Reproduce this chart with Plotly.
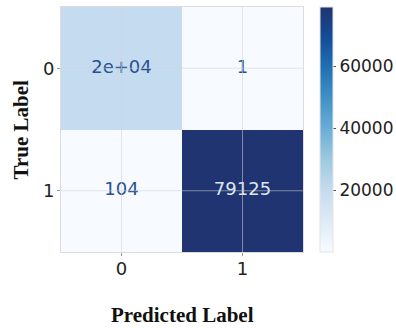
import plotly.graph_objects as go

# Data
pred_labels = ["0", "1"]
true_labels = ["0", "1"]
counts = [[20000, 1], [104, 79125]]
cell_text = [["2e+04", "1"], ["104", "79125"]]
cbar_ticks = [20000, 40000, 60000]

blues = ["#f7fbff", "#deebf7", "#c6dbef", "#9ecae1", "#6baed6",
         "#4292c6", "#2171b5", "#134d98", "#1f3470"]
colorscale = [[k / (len(blues) - 1), c] for k, c in enumerate(blues)]

zmin = min(min(r) for r in counts)
zmax = max(max(r) for r in counts)
thresh = (zmin + zmax) / 2

xs = list(range(len(pred_labels)))
ys = list(range(len(true_labels)))

fig = go.Figure()
fig.add_trace(go.Heatmap(
    z=counts, x=xs, y=ys, colorscale=colorscale, zmin=zmin, zmax=zmax,
    showscale=True, xgap=0, ygap=0,
    colorbar=dict(
        thickness=13, len=1, lenmode="fraction", y=0.5, yanchor="middle",
        x=1.07, xanchor="left", xref="paper", xpad=0, ypad=0,
        tickvals=cbar_ticks, ticktext=[str(v) for v in cbar_ticks],
        ticks="outside", ticklen=3, tickcolor="#555",
        tickfont=dict(family="DejaVu Sans", size=17, color="#222"),
        outlinewidth=1, outlinecolor="#e4e4e4",
    ),
))

tx, ty, tt, tc = [], [], [], []
for i in ys:
    for j in xs:
        tx.append(j); ty.append(i); tt.append(cell_text[i][j])
        tc.append("#dde6f2" if counts[i][j] > thresh else "#27508f")
fig.add_trace(go.Scatter(
    x=tx, y=ty, text=tt, mode="text", showlegend=False, hoverinfo="skip",
    textfont=dict(family="DejaVu Sans", size=18, color=tc),
))

shapes = []
for j in xs:
    shapes.append(dict(type="line", xref="x", yref="paper", x0=j, x1=j, y0=0, y1=1,
                       line=dict(color="rgba(205,210,220,0.55)", width=1), layer="above"))
for i in ys:
    shapes.append(dict(type="line", xref="paper", yref="y", x0=0, x1=1, y0=i, y1=i,
                       line=dict(color="rgba(205,210,220,0.55)", width=1), layer="above"))

fig.update_layout(
    width=396, height=328,
    margin=dict(l=61, r=93, t=7, b=76, autoexpand=False),
    paper_bgcolor="white", plot_bgcolor="white",
    shapes=shapes,
    xaxis=dict(range=[-0.5, len(xs) - 0.5], tickvals=xs, ticktext=pred_labels,
               showgrid=False, zeroline=False, ticks="outside", ticklen=3,
               tickcolor="#999", showline=True, linecolor="#ddd", mirror=True,
               ticklabelstandoff=-3,
               tickfont=dict(family="DejaVu Sans", size=18, color="#222")),
    yaxis=dict(range=[len(ys) - 0.5, -0.5], tickvals=ys, ticktext=true_labels,
               showgrid=False, zeroline=False, ticks="outside", ticklen=3,
               tickcolor="#999", showline=True, linecolor="#ddd", mirror=True,
               ticklabelstandoff=-1,
               tickfont=dict(family="DejaVu Sans", size=18, color="#222")),
    annotations=[
        dict(text="<b>Predicted Label</b>", xref="paper", yref="paper", x=0.5, y=0,
             yshift=-63, xanchor="center", yanchor="middle", showarrow=False,
             font=dict(family="Liberation Serif", size=21, color="#111")),
        dict(text="<b>True Label</b>", xref="paper", yref="paper", x=0, y=0.5,
             xshift=-41, xanchor="center", yanchor="middle", textangle=-90,
             showarrow=False,
             font=dict(family="Liberation Serif", size=21, color="#111")),
    ],
)

fig.write_html("out.html")
